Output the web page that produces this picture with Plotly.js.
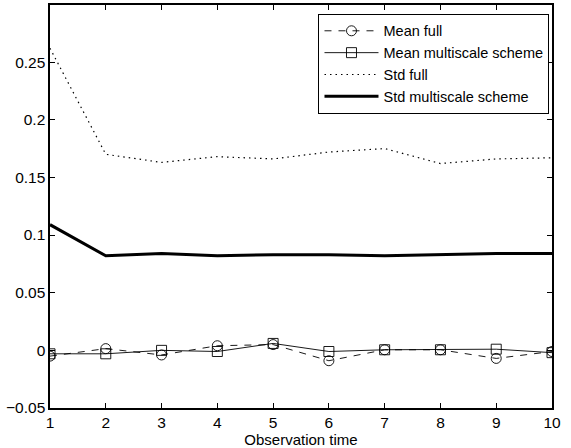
<!DOCTYPE html>
<html>
<head>
<meta charset="utf-8">
<script src="https://cdn.plot.ly/plotly-3.0.1.min.js"></script>
<style>html,body{margin:0;padding:0;background:#fff;}#chart{width:571px;height:448px;}</style>
</head>
<body>
<div id="chart"></div>
<script>
const obsTime = [1, 2, 3, 4, 5, 6, 7, 8, 9, 10];
const meanFull = [-0.005, 0.0015, -0.004, 0.004, 0.005, -0.009, 0.0005, 0.0005, -0.007, -0.001];
const meanMultiscale = [-0.003, -0.003, 0.0, -0.001, 0.006, -0.001, 0.0005, 0.0005, 0.001, -0.002];
const stdFull = [0.262, 0.170, 0.163, 0.168, 0.166, 0.172, 0.175, 0.162, 0.166, 0.167];
const stdMultiscale = [0.109, 0.082, 0.084, 0.082, 0.083, 0.083, 0.082, 0.083, 0.084, 0.084];
const seriesNames = ["Mean full", "Mean multiscale scheme", "Std full", "Std multiscale scheme"];
const yTickVals = [-0.05, 0, 0.05, 0.1, 0.15, 0.2, 0.25];
const yTickText = ["\u22120.05", "0", "0.05", "0.1", "0.15", "0.2", "0.25"];

const traces = [
  {x: obsTime, y: meanFull, name: seriesNames[0], mode: "lines+markers",
   line: {color: "black", width: 0.9, dash: "7px,7px"},
   marker: {symbol: "circle-open", size: 10, color: "black", line: {width: 0.9, color: "black"}}},
  {x: obsTime, y: meanMultiscale, name: seriesNames[1], mode: "lines+markers",
   line: {color: "black", width: 0.9},
   marker: {symbol: "square-open", size: 10, color: "black", line: {width: 0.9, color: "black"}}},
  {x: obsTime, y: stdFull, name: seriesNames[2], mode: "lines",
   line: {color: "black", width: 1.2, dash: "1.5px,4px"}},
  {x: obsTime, y: stdMultiscale, name: seriesNames[3], mode: "lines",
   line: {color: "black", width: 3}}
];

const fam = "Liberation Sans, Arial, sans-serif";
const axisFont = {family: fam, size: 15.5, color: "black"};
const layout = {
  width: 571, height: 448,
  margin: {l: 50, r: 19, t: 5, b: 40, pad: 0},
  paper_bgcolor: "white", plot_bgcolor: "white",
  showlegend: true,
  font: axisFont,
  xaxis: {
    range: [1, 10], tickvals: obsTime, ticks: "inside", ticklen: 5, tickcolor: "black",
    tickwidth: 1,
    showline: true, linecolor: "black", linewidth: 1.6, mirror: "ticks",
    showgrid: false, zeroline: false, tickfont: axisFont,
    title: {text: "Observation time", font: {family: fam, size: 15, color: "black"}, standoff: 1}
  },
  yaxis: {
    range: [-0.05, 0.2995], tickvals: yTickVals, ticktext: yTickText,
    ticks: "inside", ticklen: 5, tickcolor: "black", tickwidth: 1,
    showline: true, linecolor: "black", linewidth: 1.6, mirror: "ticks",
    showgrid: false, zeroline: false, tickfont: axisFont
  },
  legend: {
    x: 0.995, y: 0.978, xanchor: "right", yanchor: "top",
    bgcolor: "white", bordercolor: "black", borderwidth: 1,
    font: {family: fam, size: 14.5, color: "black"},
    tracegroupgap: 0, itemwidth: 54
  }
};
Plotly.newPlot("chart", traces, layout, {staticPlot: true, displayModeBar: false});
</script>
</body>
</html>
